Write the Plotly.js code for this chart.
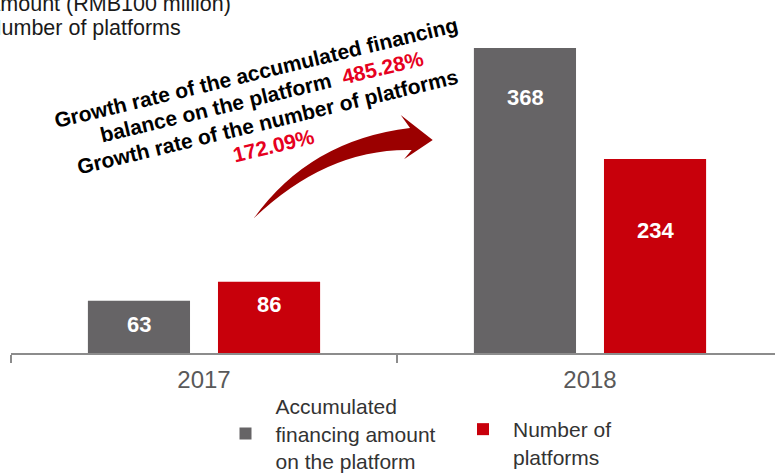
<!DOCTYPE html>
<html>
<head>
<meta charset="utf-8">
<script src="https://cdn.plot.ly/plotly-3.0.1.min.js"></script>
<style>html,body{margin:0;padding:0;background:#fff;}#chart{width:775px;height:474px;}</style>
</head>
<body>
<div id="chart"></div>
<script>
// ---- data ----
const years = ["2017", "2018"];
const financingAmount = [63, 368];      // RMB100 million
const platformCount = [86, 234];
const seriesNames = ["Accumulated<br>financing amount<br>on the platform", "Number of<br>platforms"];
const growthFinancing = "485.28%";
const growthPlatforms = "172.09%";

// ---- styling / layout constants ----
const W = 775, H = 474;
const M = {l: 11, r: 0, t: 5, b: 121, autoexpand: false};
const PW = W - M.l - M.r, PH = H - M.t - M.b;
const GREY = "#666466", RED = "#C8000B", ARROW = "#9B0000", PCT = "#E60020";
const FONT = "Arial, 'Liberation Sans', sans-serif";
const labelDropGrey = [24, 49];   // px below bar top for value labels
const labelDropRed = [23, 71];
const groupOffset = 65;           // px from category centre to each bar centre

function P(px, py) { return ((px - M.l) / PW).toFixed(4) + "," + ((H - M.b - py) / PH).toFixed(4); }
function PX(px) { return (px - M.l) / PW; }
function PY(py) { return (H - M.b - py) / PH; }

const traces = [
  {type: "bar", x: years, y: financingAmount, name: seriesNames[0], marker: {color: GREY}, hoverinfo: "skip", legend: "legend"},
  {type: "bar", x: years, y: platformCount, name: seriesNames[1], marker: {color: RED}, hoverinfo: "skip", legend: "legend2"}
];

const annotations = [];
years.forEach((yr, i) => {
  annotations.push({x: i, y: financingAmount[i], xref: "x", yref: "y", text: String(financingAmount[i]),
    showarrow: false, xshift: -groupOffset, yshift: -labelDropGrey[i], yanchor: "middle",
    font: {family: FONT, size: 22, color: "#ffffff", weight: "bold"}});
  annotations.push({x: i, y: platformCount[i], xref: "x", yref: "y", text: String(platformCount[i]),
    showarrow: false, xshift: groupOffset, yshift: -labelDropRed[i], yanchor: "middle",
    font: {family: FONT, size: 22, color: "#ffffff", weight: "bold"}});
});

// cut-off axis captions at top-left
annotations.push({xref: "paper", yref: "paper", x: PX(-16), y: PY(4), xanchor: "left", yanchor: "middle",
  text: "Amount (RMB100 million)", showarrow: false, font: {family: FONT, size: 21.5, color: "#1a1a1a"}});
annotations.push({xref: "paper", yref: "paper", x: PX(-16), y: PY(27.5), xanchor: "left", yanchor: "middle",
  text: "Number of platforms", showarrow: false, font: {family: FONT, size: 21.5, color: "#1a1a1a"}});

// rotated growth-rate note (one annotation per line for tighter line spacing)
const noteLines = [
  "Growth rate of the accumulated financing",
  "balance on the platform  <span style='color:" + PCT + "'>" + growthFinancing + "</span>",
  "Growth rate of the number of platforms",
  "<span style='color:" + PCT + "'>" + growthPlatforms + "</span>"
];
const ang = 13.5 * Math.PI / 180, lineStep = 25, c0 = [256, 72.5];
noteLines.forEach((t, k) => {
  const cx = c0[0] + k * lineStep * Math.sin(ang), cy = c0[1] + k * lineStep * Math.cos(ang);
  annotations.push({xref: "paper", yref: "paper", x: PX(cx), y: PY(cy), xanchor: "center", yanchor: "middle",
    textangle: -13.5, showarrow: false, text: t,
    font: {family: FONT, size: 21, color: "#000000", weight: "bold"}});
});

const arrowPath = "M" + P(254, 218) + " Q" + P(310, 140) + " " + P(410, 128) +
  " L" + P(400.7, 115) + " L" + P(432.7, 140) + " L" + P(404, 159.3) + " L" + P(411.7, 150) +
  " Q" + P(327.5, 148) + " " + P(254, 218) + " Z";

const legendCommon = {orientation: "h", xanchor: "left", yanchor: "top",
  font: {family: FONT, size: 21, color: "#333333"}, itemwidth: 50, bgcolor: "rgba(0,0,0,0)"};

const layout = {
  width: W, height: H,
  margin: M,
  paper_bgcolor: "#ffffff", plot_bgcolor: "#ffffff",
  barmode: "group", bargap: 0.326, bargroupgap: 0.215,
  font: {family: FONT},
  xaxis: {
    type: "category", range: [-0.5, -0.5 + PW / 386], fixedrange: true,
    showline: true, linecolor: "#8C8C8C", linewidth: 1.5,
    ticks: "outside", tickson: "boundaries", ticklen: 8, tickcolor: "#8C8C8C", tickwidth: 1.5,
    tickfont: {family: FONT, size: 24, color: "#595959"}, ticklabelstandoff: 5,
    showgrid: false, zeroline: false, automargin: false
  },
  yaxis: {range: [0, 420], visible: false, fixedrange: true, automargin: false},
  showlegend: true,
  legend: Object.assign({}, legendCommon, {x: PX(215.5), y: PY(386), valign: "middle"}),
  legend2: Object.assign({}, legendCommon, {x: PX(453), y: PY(409), valign: "top"}),
  shapes: [{type: "path", xref: "paper", yref: "paper", path: arrowPath, fillcolor: ARROW, line: {width: 0}, layer: "above"}],
  annotations: annotations
};

Plotly.newPlot("chart", traces, layout, {displayModeBar: false, staticPlot: true});
</script>
</body>
</html>
